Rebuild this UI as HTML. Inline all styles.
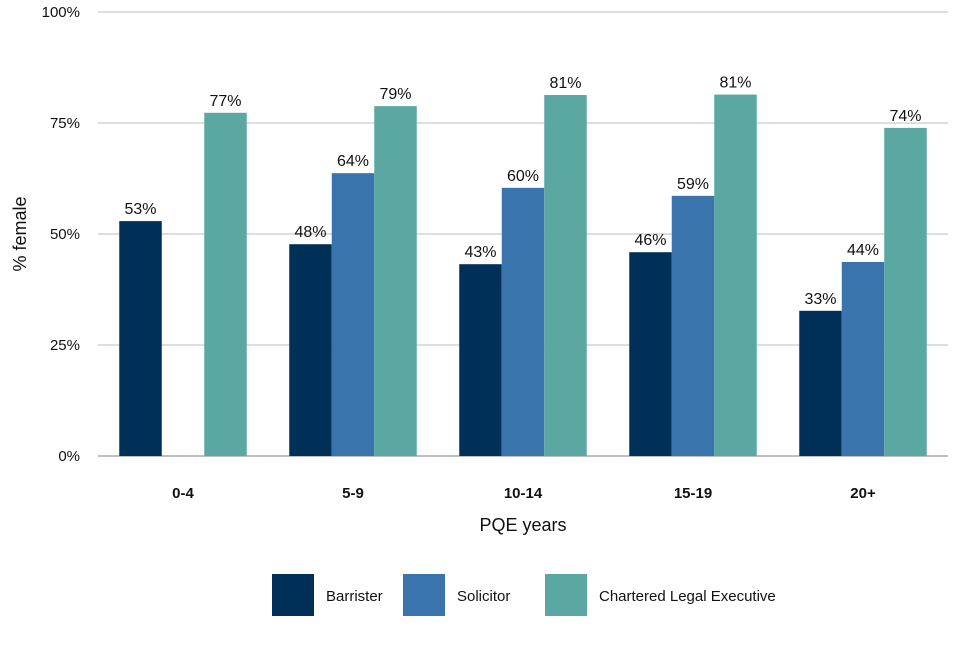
<!DOCTYPE html>
<html><head><meta charset="utf-8"><style>
body{margin:0;background:#fff;font-family:"Liberation Sans",Arial,sans-serif}
svg text{font-family:"Liberation Sans",Arial,sans-serif}
</style></head><body>
<svg id="chart" width="960" height="640" xmlns="http://www.w3.org/2000/svg">
<g id="grid"></g><g id="bars"></g><g id="labels"></g>
<text x="26" y="234" transform="rotate(-90 26 234)" text-anchor="middle" font-size="18" fill="#111">% female</text>
<text x="523" y="531" text-anchor="middle" font-size="18" fill="#111">PQE years</text>
<g>
<rect x="272" y="574" width="42" height="42" fill="#003057"/>
<text x="326" y="601" font-size="15" fill="#111">Barrister</text>
<rect x="403" y="574" width="42" height="42" fill="#3a74ad"/>
<text x="457" y="601" font-size="15" fill="#111">Solicitor</text>
<rect x="545" y="574" width="42" height="42" fill="#5ba8a3"/>
<text x="599" y="601" font-size="15" fill="#111">Chartered Legal Executive</text>
</g>
</svg>
<script>
const categories = ["0-4","5-9","10-14","15-19","20+"];
const barrister = [52.9,47.7,43.2,45.9,32.7];
const solicitor = [null,63.7,60.4,58.6,43.7];
const cle = [77.3,78.8,81.3,81.4,73.9];
const yTicks = [0,25,50,75,100];
const seriesColors = ["#003057","#3a74ad","#5ba8a3"];
const seriesNames = ["barrister","solicitor","cle"];

const NS="http://www.w3.org/2000/svg";
const y0=456,y1=12,x0=98,x1=948,bw=42.5;
const yScale=v=>y0-(v/100)*(y0-y1);
const band=(x1-x0)/categories.length;
const xCenter=i=>x0+band*(i+0.5);
function mk(tag,attrs,parent){const e=document.createElementNS(NS,tag);for(const k in attrs)e.setAttribute(k,attrs[k]);parent.appendChild(e);return e;}
const grid=document.getElementById('grid'),bars=document.getElementById('bars'),labels=document.getElementById('labels');
yTicks.forEach(t=>{
  const y=yScale(t);
  const l=mk('line',{x1:x0,x2:x1,y1:y,y2:y,stroke:t===0?'#aaa':'#d3d3d3','stroke-width':1.5},grid);
  
  
  const tx=mk('text',{x:80,y:y+5,'text-anchor':'end','font-size':15,fill:'#111'},grid);
  tx.textContent=t+'%';
  
  
});
[barrister,solicitor,cle].forEach((series,s)=>{
  series.forEach((v,i)=>{
    if(v==null)return;
    const x=xCenter(i)+(s-1.5)*bw;
    const r=mk('rect',{x:x,y:yScale(v),width:bw,height:y0-yScale(v),fill:seriesColors[s]},bars);
    
    
    const t=mk('text',{x:x+bw/2,y:yScale(v)-7,'text-anchor':'middle','font-size':16,fill:'#111'},labels);
    t.textContent=Math.round(v)+'%';
    
    
  });
});
categories.forEach((c,i)=>{
  const t=mk('text',{x:xCenter(i),y:498,'text-anchor':'middle','font-size':15,'font-weight':'bold',fill:'#111'},labels);
  t.textContent=c;
  
  
});
</script>
</body></html>
